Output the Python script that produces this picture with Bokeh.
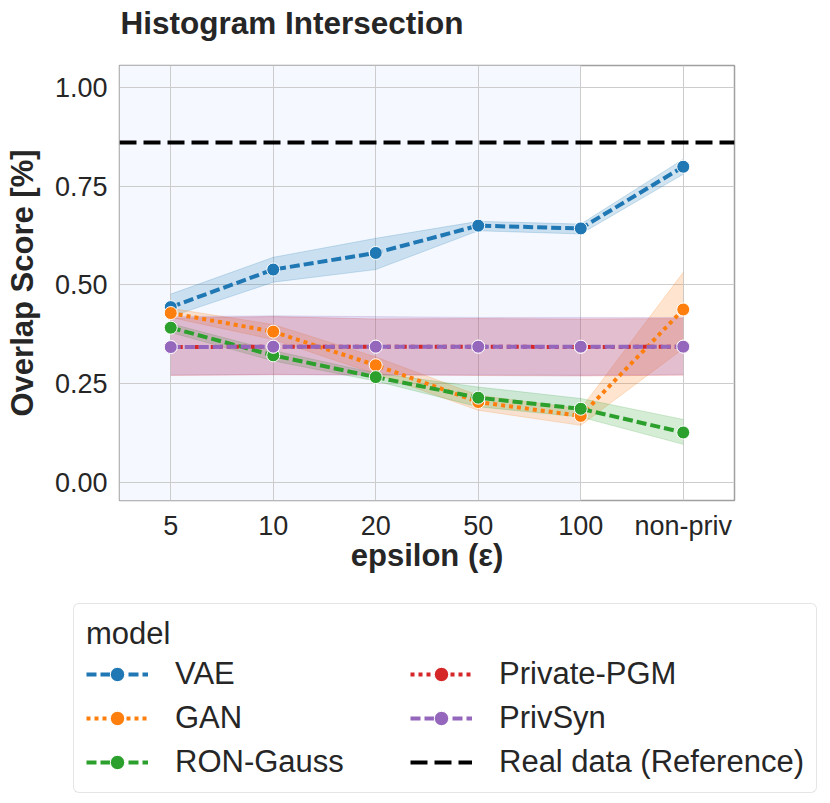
from bokeh.plotting import figure
from bokeh.models import (Range1d, FixedTicker, Legend, LegendItem, BoxAnnotation,
                          NumeralTickFormatter, Label)
from bokeh.embed import file_html
from bokeh.resources import INLINE

# ---------------- data ----------------
eps_labels = ["5", "10", "20", "50", "100", "non-priv"]

vae = [0.444, 0.539, 0.581, 0.650, 0.643, 0.799]
vae_lo = [0.420, 0.507, 0.539, 0.637, 0.629, 0.780]
vae_hi = [0.477, 0.570, 0.618, 0.661, 0.654, 0.818]

gan = [0.429, 0.382, 0.297, 0.204, 0.169, 0.438]
gan_lo = [0.418, 0.362, 0.275, 0.183, 0.145, 0.339]
gan_hi = [0.441, 0.400, 0.318, 0.221, 0.187, 0.532]

ron = [0.392, 0.322, 0.267, 0.215, 0.187, 0.127]
ron_lo = [0.380, 0.308, 0.257, 0.192, 0.166, 0.097]
ron_hi = [0.402, 0.334, 0.277, 0.242, 0.213, 0.160]

pgm = [0.343, 0.344, 0.344, 0.344, 0.343, 0.344]
pgm_lo = [0.271, 0.273, 0.273, 0.271, 0.270, 0.272]
pgm_hi = [0.416, 0.420, 0.414, 0.415, 0.414, 0.415]

privsyn = [0.343, 0.344, 0.344, 0.344, 0.344, 0.344]
privsyn_lo = [0.273, 0.274, 0.272, 0.273, 0.272, 0.274]
privsyn_hi = [0.420, 0.422, 0.420, 0.418, 0.418, 0.418]

real_value = 0.860
private_until = "100"   # shaded region covers the private epsilons up to this one

y_ticks = [0.0, 0.25, 0.50, 0.75, 1.00]

title_text = "Histogram Intersection"
legend_title = "model"
real_label = "Real data (Reference)"

# ---------------- styling ----------------
FONT = "Liberation Sans"
TXT = "#262626"
W, H = 830, 803
TOP_H = 44
MAIN_TOP, FRAME_H, MAIN_BOTTOM = 65 - TOP_H, 435, 95
LEG_H = H - TOP_H - MAIN_TOP - FRAME_H - MAIN_BOTTOM

series = [
    ("VAE", vae, vae_lo, vae_hi, "#1f77b4", "10 4"),
    ("GAN", gan, gan_lo, gan_hi, "#ff7f0e", "4 4"),
    ("RON-Gauss", ron, ron_lo, ron_hi, "#2ca02c", "10 4"),
    ("Private-PGM", pgm, pgm_lo, pgm_hi, "#d62728", "4 4"),
    ("PrivSyn", privsyn, privsyn_lo, privsyn_hi, "#9467bd", "10 4"),
]

def bare(height):
    f = figure(width=W, height=height, output_backend="svg", toolbar_location=None,
               x_axis_type=None, y_axis_type=None, x_range=Range1d(0, 1), y_range=Range1d(0, 1),
               min_border=0, outline_line_color=None)
    f.grid.visible = False
    f.background_fill_color = "white"
    f.border_fill_color = "white"
    return f

# ---------------- title strip ----------------
top = bare(TOP_H)
top.add_layout(Label(x=120, y=TOP_H - 22, x_units="screen", y_units="screen", text=title_text,
                     text_font=FONT, text_font_size="31.5px", text_font_style="bold",
                     text_color=TXT, text_align="left", text_baseline="middle"))

# ---------------- main plot ----------------
x_idx = list(range(len(eps_labels)))
x_lo, x_hi = -0.5, len(eps_labels) - 0.5

p = figure(frame_width=615, frame_height=FRAME_H, output_backend="svg", toolbar_location=None,
           x_range=Range1d(x_lo, x_hi), y_range=Range1d(-0.045, 1.055),
           min_border_left=119, min_border_right=W - 119 - 615,
           min_border_top=MAIN_TOP, min_border_bottom=MAIN_BOTTOM)
p.background_fill_color = "white"
p.border_fill_color = "white"
p.outline_line_color = "#a0a0a0"
p.outline_line_width = 1.5

p.add_layout(BoxAnnotation(right=eps_labels.index(private_until), fill_color="#f5f9ff",
                           fill_alpha=1.0, line_color=None, level="image"))

p.xaxis.ticker = FixedTicker(ticks=x_idx)
p.xaxis.major_label_overrides = {i: lab for i, lab in enumerate(eps_labels)}
p.yaxis.ticker = FixedTicker(ticks=y_ticks)
p.yaxis.formatter = NumeralTickFormatter(format="0.00")
p.xgrid.ticker = FixedTicker(ticks=x_idx)
p.ygrid.ticker = FixedTicker(ticks=y_ticks)
p.grid.grid_line_color = "#cccccc"
p.grid.grid_line_width = 1

for ax in (p.xaxis, p.yaxis):
    ax.axis_line_color = None
    ax.major_tick_line_color = None
    ax.minor_tick_line_color = None
    ax.major_label_text_font = FONT
    ax.major_label_text_font_size = "27px"
    ax.major_label_text_color = TXT
    ax.axis_label_text_font = FONT
    ax.axis_label_text_font_size = "31px"
    ax.axis_label_text_font_style = "bold"
    ax.axis_label_text_color = TXT

p.xaxis.axis_label = "epsilon (ε)"
p.yaxis.axis_label = "Overlap Score [%]"
p.xaxis.major_label_standoff = 4
p.yaxis.major_label_standoff = 6
p.xaxis.axis_label_standoff = -6
p.yaxis.axis_label_standoff = 12

for name, m, lo, hi, col, dash in series:
    p.varea(x=x_idx, y1=lo, y2=hi, fill_color=col, fill_alpha=0.2)
    p.line(x=x_idx, y=lo, line_color=col, line_alpha=0.2, line_width=1)
    p.line(x=x_idx, y=hi, line_color=col, line_alpha=0.2, line_width=1)

for name, m, lo, hi, col, dash in series:
    p.line(x=x_idx, y=m, line_color=col, line_width=4, line_dash=dash)
    p.scatter(x=x_idx, y=m, size=13, fill_color=col, line_color="white", line_width=1)

p.line(x=[x_lo, x_hi], y=[real_value, real_value], line_color="black",
       line_width=4, line_dash="17 7")

# ---------------- legend strip ----------------
nan = float("nan")
leg = bare(LEG_H)
items = {}
for name, m, lo, hi, col, dash in series:
    lr = leg.line(x=[nan], y=[nan], line_color=col, line_width=4, line_dash=dash)
    sr = leg.scatter(x=[nan], y=[nan], size=13, fill_color=col, line_color="white", line_width=1)
    items[name] = LegendItem(label=name, renderers=[lr, sr])
rr = leg.line(x=[nan], y=[nan], line_color="black", line_width=4, line_dash="17 7")
items["Real"] = LegendItem(label=real_label, renderers=[rr])

order = ["VAE", "GAN", "RON-Gauss", "Private-PGM", "PrivSyn", "Real"]
legend = Legend(items=[items[k] for k in order], ncols=2, title=legend_title,
                location=(73, 10), margin=0, padding=12, spacing=8,
                glyph_width=62, glyph_height=36, label_standoff=27, label_width=227,
                label_text_font=FONT, label_text_font_size="31px", label_text_color=TXT,
                title_text_font=FONT, title_text_font_size="31px", title_text_font_style="normal",
                title_text_color=TXT, title_standoff=4,
                border_line_color="#cccccc", border_line_width=1.5,
                background_fill_color="white", background_fill_alpha=1.0)
try:
    legend.border_radius = 6
except Exception:
    pass
leg.add_layout(legend)

open("out.html", "w").write(file_html([top, p, leg], INLINE))
